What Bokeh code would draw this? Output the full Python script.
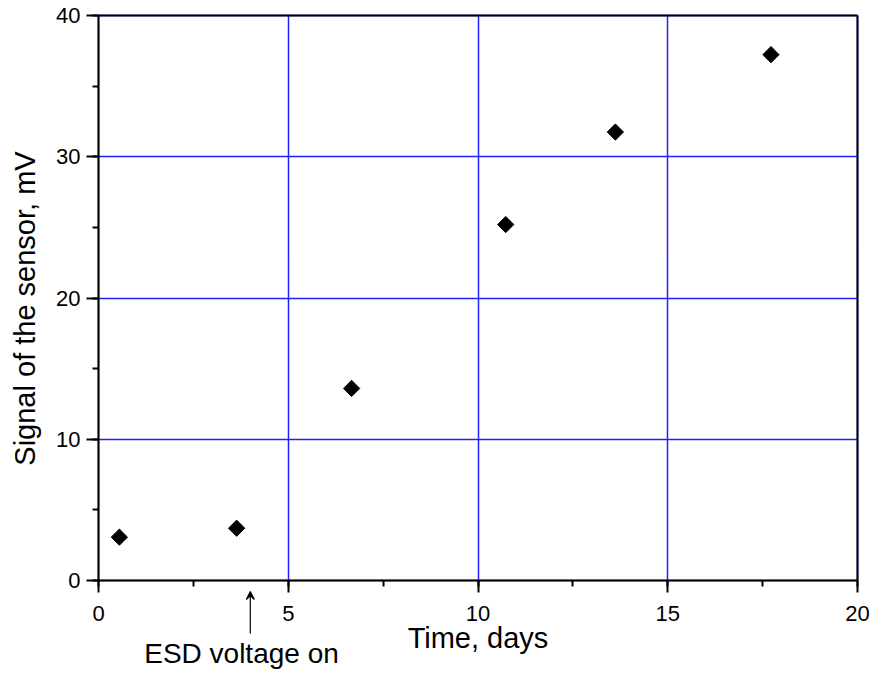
import numpy as np
from bokeh.plotting import figure
from bokeh.models import (SingleIntervalTicker, FixedTicker, Arrow, VeeHead,
                          Label, Range1d, LinearAxis)
from bokeh.embed import file_html
from bokeh.resources import INLINE

# Data
time_days = [0.55, 3.64, 6.67, 10.73, 13.62, 17.72]
signal_mv = [3.07, 3.70, 13.6, 25.2, 31.75, 37.23]
esd_on_day = 4.0
x_label = "Time, days"
y_label = "Signal of the sensor, mV"
annotation_text = "ESD voltage on"

FONT = "Liberation Sans"

X_MIN, X_MAX = 0, 20
Y_MIN, Y_MAX = 0, 40

# layout (pixels): the whole canvas is the frame; the axes box sits inside it
W, H = 870, 672
BOX_L, BOX_R, BOX_T, BOX_B = 98, 857, 15, 580
sx = (BOX_R - BOX_L) / (X_MAX - X_MIN)
sy = (BOX_B - BOX_T) / (Y_MAX - Y_MIN)
x_lo = X_MIN - BOX_L / sx
x_hi = X_MAX + (W - BOX_R) / sx
y_hi = Y_MAX + BOX_T / sy
y_lo = Y_MIN - (H - BOX_B) / sy


def px_to_x(px):
    return X_MIN + (px - BOX_L) / sx


def px_to_y(py):
    return Y_MIN - (py - BOX_B) / sy


p = figure(frame_width=W, frame_height=H,
           x_range=Range1d(x_lo, x_hi), y_range=Range1d(y_lo, y_hi),
           output_backend="svg", toolbar_location=None,
           min_border_left=0, min_border_right=0,
           min_border_top=0, min_border_bottom=0)

p.background_fill_color = "white"
p.border_fill_color = "white"
p.outline_line_color = None

p.xaxis.ticker = SingleIntervalTicker(interval=5, num_minor_ticks=2)
p.yaxis.ticker = SingleIntervalTicker(interval=10, num_minor_ticks=2)
p.xaxis.fixed_location = Y_MIN
p.yaxis.fixed_location = X_MIN
p.xaxis.bounds = (X_MIN, X_MAX)
p.yaxis.bounds = (Y_MIN, Y_MAX)

for ax in (p.xaxis, p.yaxis):
    ax.axis_line_width = 2
    ax.axis_line_color = "black"
    ax.major_tick_line_width = 2
    ax.minor_tick_line_width = 2
    ax.major_tick_line_color = "black"
    ax.minor_tick_line_color = "black"
    ax.major_tick_in = 0
    ax.major_tick_out = 12
    ax.minor_tick_in = 0
    ax.minor_tick_out = 6
    ax.major_label_text_font = FONT
    ax.major_label_text_font_size = "22px"
    ax.major_label_text_color = "black"

p.xaxis.major_label_standoff = 13
p.yaxis.major_label_standoff = 6

# border lines on top and right of the axes box
top_border = LinearAxis(fixed_location=Y_MAX, bounds=(X_MIN, X_MAX),
                        ticker=FixedTicker(ticks=[]),
                        axis_line_width=2, axis_line_color="black",
                        major_label_text_font_size="0px", major_tick_out=0,
                        minor_tick_out=0, major_label_standoff=0)
right_border = LinearAxis(fixed_location=X_MAX, bounds=(Y_MIN, Y_MAX),
                          ticker=FixedTicker(ticks=[]),
                          axis_line_width=2, axis_line_color="black",
                          major_label_text_font_size="0px", major_tick_out=0,
                          minor_tick_out=0, major_label_standoff=0)
p.add_layout(top_border, "above")
p.add_layout(right_border, "right")

p.xgrid.grid_line_color = "#2020ff"
p.ygrid.grid_line_color = "#2020ff"
p.xgrid.grid_line_width = 1.5
p.ygrid.grid_line_width = 1.5
p.xgrid.bounds = (X_MIN, X_MAX)
p.ygrid.bounds = (Y_MIN, Y_MAX)

if "cross_bounds" in p.xgrid[0].properties():
    p.xgrid.cross_bounds = (Y_MIN, Y_MAX)
    p.ygrid.cross_bounds = (X_MIN, X_MAX)
else:
    p.quad(left=[x_lo, x_lo, X_MAX, x_lo], right=[x_hi, X_MIN, x_hi, x_hi],
           bottom=[y_lo, y_lo, y_lo, Y_MAX], top=[Y_MIN, y_hi, y_hi, y_hi],
           fill_color="white", line_color=None)

p.scatter(time_days, signal_mv, marker="square", angle=np.pi / 4,
          size=11.5, fill_color="black", line_color="black")

# axis titles (placed as in the reference)
BASE_FIX = 9  # rendered baseline sits this many px below the requested one
p.add_layout(Label(x=(X_MIN + X_MAX) / 2, y=px_to_y(646 - BASE_FIX), text=x_label,
                   text_font=FONT, text_font_size="29px",
                   text_align="center", text_baseline="alphabetic",
                   text_color="black"))
p.add_layout(Label(x=px_to_x(33 - BASE_FIX), y=px_to_y(308), text=y_label,
                   angle=np.pi / 2,
                   text_font=FONT, text_font_size="29px",
                   text_align="center", text_baseline="alphabetic",
                   text_color="black"))

p.add_layout(Label(x=px_to_x(241), y=px_to_y(662 - BASE_FIX), text=annotation_text,
                   text_font=FONT, text_font_size="28px",
                   text_align="center", text_baseline="alphabetic",
                   text_color="black"))

arrow = Arrow(x_start=esd_on_day, y_start=px_to_y(633), x_end=esd_on_day,
              y_end=px_to_y(591),
              line_color="black", line_width=1.2,
              end=VeeHead(size=8, line_color="black", line_width=1.2,
                          fill_color="black"))
p.add_layout(arrow)

open("out.html", "w").write(file_html(p, INLINE))
